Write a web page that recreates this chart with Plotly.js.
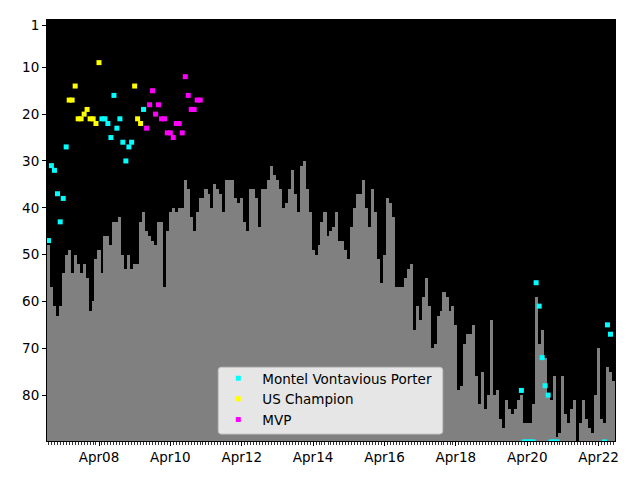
<!DOCTYPE html>
<html>
<head>
<meta charset="utf-8">
<script src="https://cdn.plot.ly/plotly-3.0.1.min.js"></script>
<style>html,body{margin:0;padding:0;background:#fff;}#chart{width:640px;height:480px;}</style>
</head>
<body>
<div id="chart"></div>
<script>
// Months (one bar per month)
const months = [
 "2006-11","2006-12",
 "2007-01","2007-02","2007-03","2007-04","2007-05","2007-06","2007-07","2007-08","2007-09","2007-10","2007-11","2007-12",
 "2008-01","2008-02","2008-03","2008-04","2008-05","2008-06","2008-07","2008-08","2008-09","2008-10","2008-11","2008-12",
 "2009-01","2009-02","2009-03","2009-04","2009-05","2009-06","2009-07","2009-08","2009-09","2009-10","2009-11","2009-12",
 "2010-01","2010-02","2010-03","2010-04","2010-05","2010-06","2010-07","2010-08","2010-09","2010-10","2010-11","2010-12",
 "2011-01","2011-02","2011-03","2011-04","2011-05","2011-06","2011-07","2011-08","2011-09","2011-10","2011-11","2011-12",
 "2012-01","2012-02","2012-03","2012-04","2012-05","2012-06","2012-07","2012-08","2012-09","2012-10","2012-11","2012-12",
 "2013-01","2013-02","2013-03","2013-04","2013-05","2013-06","2013-07","2013-08","2013-09","2013-10","2013-11","2013-12",
 "2014-01","2014-02","2014-03","2014-04","2014-05","2014-06","2014-07","2014-08","2014-09","2014-10","2014-11","2014-12",
 "2015-01","2015-02","2015-03","2015-04","2015-05","2015-06","2015-07","2015-08","2015-09","2015-10","2015-11","2015-12",
 "2016-01","2016-02","2016-03","2016-04","2016-05","2016-06","2016-07","2016-08","2016-09","2016-10","2016-11","2016-12",
 "2017-01","2017-02","2017-03","2017-04","2017-05","2017-06","2017-07","2017-08","2017-09","2017-10","2017-11","2017-12",
 "2018-01","2018-02","2018-03","2018-04","2018-05","2018-06","2018-07","2018-08","2018-09","2018-10","2018-11","2018-12",
 "2019-01","2019-02","2019-03","2019-04","2019-05","2019-06","2019-07","2019-08","2019-09","2019-10","2019-11","2019-12",
 "2020-01","2020-02","2020-03","2020-04","2020-05","2020-06","2020-07","2020-08","2020-09","2020-10","2020-11","2020-12",
 "2021-01","2021-02","2021-03","2021-04","2021-05","2021-06","2021-07","2021-08","2021-09","2021-10","2021-11","2021-12",
 "2022-01","2022-02","2022-03","2022-04","2022-05","2022-06","2022-07","2022-08","2022-09"
];

// Monthly rank (gray bars)
const monthlyRank = [
 48,57,
 61,63,61,54,50,49,54,50,52,54,52,55,
 62,60,51,49,54,46,46,48,43,43,42,50,
 53,50,53,52,52,43,41,45,46,47,48,43,
 43,57,45,41,40,41,40,40,34,36,42,45,
 41,38,38,36,37,40,35,36,37,41,34,34,
 34,38,39,38,43,45,36,36,38,44,36,36,
 34,31,33,34,36,40,39,36,32,37,41,31,
 30,36,41,49,50,48,43,41,46,45,44,41,
 47,47,49,51,44,40,37,37,34,40,44,36,
 41,51,56,50,38,39,42,57,57,57,55,53,
 52,66,61,64,59,55,61,70,69,63,62,58,
 59,62,61,65,79,78,69,67,67,65,76,82,
 75,83,80,64,80,79,85,87,81,83,84,83,
 81,80,86,86,86,82,59,69,66,72,80,81,
 76,89,88,76,84,86,83,81,90,86,81,85,
 87,88,80,70,85,86,74,75,77
];

// Name / title markers
const porterMonths = ["2006-11","2006-12","2007-01","2007-02","2007-03","2007-04","2007-05",
 "2008-05","2008-06","2008-07","2008-08","2008-09","2008-10","2008-11","2008-12","2009-01","2009-02","2009-03",
 "2009-07",
 "2020-02","2020-03","2020-04","2020-05","2020-06","2020-07","2020-08","2020-09","2020-10","2020-11","2020-12","2021-01","2021-02",
 "2022-06","2022-07","2022-08"];
const porterRanks = [47,31,32,37,43,38,27,
 21,21,22,25,16,23,21,26,30,27,26,
 19,
 79,90,90,90,90,56,61,72,78,80,90,90,90,
 90,65,67];

const usChampMonths = ["2007-06","2007-07","2007-08","2007-09","2007-10","2007-11","2007-12","2008-01","2008-02","2008-03","2008-04",
 "2009-04","2009-05","2009-06"];
const usChampRanks = [17,17,14,21,21,20,19,21,21,22,9, 14,21,22];

const mvpMonths = ["2009-08","2009-09","2009-10","2009-11","2009-12",
 "2010-01","2010-02","2010-03","2010-04","2010-05","2010-06","2010-07","2010-08","2010-09","2010-10","2010-11","2010-12",
 "2011-01","2011-02"];
const mvpRanks = [23,18,15,20,18, 21,21,24,24,25,22,22,24,12,16,19,19, 17,17];

const xTickVals = ["2008-04-01","2010-04-01","2012-04-01","2014-04-01","2016-04-01","2018-04-01","2020-04-01","2022-04-01"];
const xTickText = ["Apr08","Apr10","Apr12","Apr14","Apr16","Apr18","Apr20","Apr22"];
const yTickVals = [1,10,20,30,40,50,60,70,80];

const floorRank = 90;
const DAY = 86400000;
const font = {family: "DejaVu Sans", size: 13.5, color: "#000"};

// plot area in pixels (for the legend frame)
const PL = 47, PR = 615, PT = 20, PB = 441;
const PW = PR - PL, PH = PB - PT;
function px(x) { return (x - PL) / PW; }
function py(y) { return (PB - y) / PH; }
function roundedBox(x0, y0, x1, y1, r) {
 const rx = r / PW, ry = r / PH;
 const a = px(x0), b = px(x1), t = py(y0), u = py(y1);
 return `M ${a + rx},${t} L ${b - rx},${t} Q ${b},${t} ${b},${t - ry} L ${b},${u + ry} Q ${b},${u} ${b - rx},${u} ` +
        `L ${a + rx},${u} Q ${a},${u} ${a},${u + ry} L ${a},${t - ry} Q ${a},${t} ${a + rx},${t} Z`;
}

const traces = [
 {
  type: "bar", x: months, base: monthlyRank, y: monthlyRank.map(r => floorRank - r),
  width: 31 * DAY, marker: {color: "#808080", line: {width: 0}},
  showlegend: false, hoverinfo: "skip"
 },
 {
  type: "scatter", mode: "markers", name: "Montel Vontavious Porter",
  x: porterMonths, y: porterRanks,
  marker: {symbol: "square", size: 5, color: "#00ffff"}
 },
 {
  type: "scatter", mode: "markers", name: "US Champion",
  x: usChampMonths, y: usChampRanks,
  marker: {symbol: "square", size: 5, color: "#ffff00"}
 },
 {
  type: "scatter", mode: "markers", name: "MVP",
  x: mvpMonths, y: mvpRanks,
  marker: {symbol: "square", size: 5, color: "#ff00ff"}
 }
];

const layout = {
 width: 640, height: 480,
 margin: {l: PL, r: 640 - PR, t: PT, b: 480 - PB, pad: 0},
 paper_bgcolor: "#ffffff", plot_bgcolor: "#000000",
 bargap: 0,
 font: font,
 showlegend: true,
 legend: {
  x: px(214.3), y: py(363), xanchor: "left", yanchor: "top",
  bgcolor: "rgba(0,0,0,0)", borderwidth: 0,
  itemwidth: 38,
  font: font
 },
 shapes: [
  {type: "path", xref: "paper", yref: "paper", layer: "above",
   path: roundedBox(218.3, 367.3, 442.7, 434, 3),
   fillcolor: "#e6e6e6", line: {color: "#c6c6c6", width: 1}}
 ],
 xaxis: {
  type: "date",
  range: ["2006-10-16 18:00", "2022-09-16 06:00"],
  tickmode: "array", tickvals: xTickVals, ticktext: xTickText,
  ticks: "outside", ticklen: 4, tickwidth: 1, tickcolor: "#000",
  minor: {dtick: "M1", tick0: "2006-11-01", ticks: "outside", ticklen: 3, tickwidth: 0.8, tickcolor: "#000", showgrid: false},
  showgrid: false, zeroline: false,
  showline: true, linecolor: "#000", linewidth: 1, mirror: true,
  tickfont: font
 },
 yaxis: {
  range: [89.8, -0.1],
  tickmode: "array", tickvals: yTickVals,
  ticks: "outside", ticklen: 4, tickwidth: 1, tickcolor: "#000",
  showgrid: false, zeroline: false,
  showline: true, linecolor: "#000", linewidth: 1, mirror: true,
  tickfont: font
 }
};

Plotly.newPlot("chart", traces, layout, {displayModeBar: false, staticPlot: true});
</script>
</body>
</html>
